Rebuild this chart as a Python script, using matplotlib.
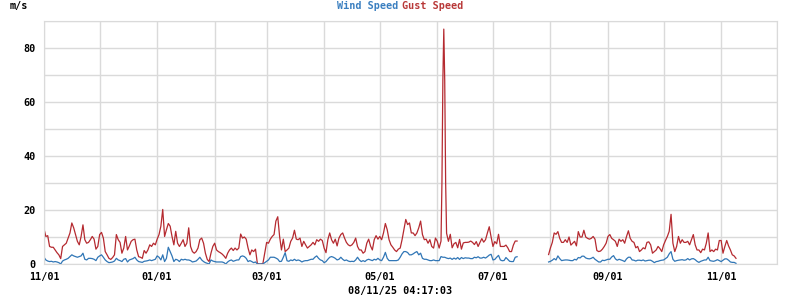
import pandas as pd
import matplotlib
matplotlib.use('Agg')
from matplotlib import pyplot as plt
import matplotlib.dates as mdates
from matplotlib.ticker import MultipleLocator

# daily readings (m/s), 2024-11-01 .. 2025-07-14
gust_1 = [13.0, 10.2, 10.5, 6.5, 6.2, 6.2, 5.2, 4.2, 3.4, 2.0,
          6.5, 7.1, 7.7, 9.6, 11.5, 15.2, 13.4, 10.9, 8.4, 7.1,
          10.2, 14.5, 9.0, 7.7, 8.0, 9.0, 10.2, 9.2, 5.5, 6.5,
          10.9, 11.7, 9.6, 4.6, 3.4, 2.1, 1.7, 2.4, 3.4, 10.9,
          9.0, 8.0, 4.0, 5.9, 10.2, 5.2, 6.7, 8.4, 9.0, 9.2,
          5.2, 2.7, 2.5, 2.1, 5.0,
          4.0, 5.2, 7.1, 6.5, 7.7, 7.1, 9.2, 10.9, 14.0, 20.2,
          10.2, 12.7, 15.0, 14.0, 10.2, 7.1, 12.1, 7.7, 6.5, 7.7,
          9.0, 6.5, 7.7, 13.4, 6.5, 4.6, 4.0, 4.6, 5.9, 9.0,
          9.6, 7.7, 4.0, 1.7, 0.9, 4.0, 6.5, 7.7, 5.2, 4.6,
          4.2, 3.7, 3.0, 2.1, 4.0, 5.2, 5.9, 5.0, 5.9, 5.2,
          5.9, 11.1, 9.6, 10.0,
          9.2, 5.9, 3.4, 5.2, 4.6, 5.5, 0.2, 0.0, 0.0, 0.2,
          4.0, 8.0, 7.7, 9.2, 10.2, 10.9, 15.9, 17.5, 10.2, 5.2,
          9.2, 4.6, 5.2, 5.9, 8.4, 9.6, 12.5, 9.2, 9.0, 9.6,
          6.5, 8.4, 7.1, 5.9, 6.5, 7.1, 8.0, 7.1, 9.0, 8.4,
          9.2, 8.7, 5.9, 4.2, 9.0, 11.5, 9.0, 7.7, 9.2, 6.7,
          9.6, 10.9, 11.5, 9.6,
          8.0, 7.1, 6.7, 7.1, 8.0, 9.6, 6.5, 5.2, 5.2, 4.0,
          4.6, 7.7, 9.2, 6.7, 5.2, 9.0, 10.5, 9.2, 10.2, 9.0,
          11.5, 15.0, 12.7, 9.0, 7.1, 6.2, 5.2, 4.6, 5.5, 5.9,
          9.0, 12.7, 16.5, 14.6, 15.2, 11.5, 11.5, 10.5, 11.5, 13.4,
          15.9, 10.9, 9.0, 9.2, 7.7, 9.0, 6.5, 5.9, 9.6, 8.4,
          5.9, 8.5,
          68.0, 68.0, 11.4, 8.4, 11.0, 6.0, 7.5, 8.0, 6.0, 9.1,
          5.5, 7.8, 8.0, 8.0, 8.1, 8.5, 8.0, 7.2, 8.3, 6.5,
          8.0, 9.4, 8.1, 9.0, 11.5, 13.8, 10.0, 6.5, 8.3, 7.5,
          11.0, 6.5, 6.5, 6.5, 7.0, 6.0, 4.6, 4.6, 7.0, 8.5,
          8.5]
wind_1 = [2.5, 1.5, 1.1, 0.9, 1.0, 0.75, 0.9, 0.75, 0.5, 0.0,
          1.1, 1.5, 1.75, 2.1, 2.75, 3.4, 3.0, 2.75, 2.5, 2.75,
          3.0, 4.0, 1.75, 1.5, 2.1, 2.1, 2.0, 1.75, 1.25, 2.5,
          3.0, 3.4, 2.5, 1.5, 0.9, 0.5, 0.6, 0.75, 1.1, 2.1,
          1.5, 1.25, 0.9, 1.75, 2.0, 0.75, 1.5, 1.75, 2.0, 2.5,
          1.5, 0.9, 0.75, 0.6, 1.0,
          1.1, 1.25, 1.5, 1.25, 1.5, 1.75, 3.0, 2.5, 1.5, 3.4,
          0.9, 2.1, 6.2, 4.6, 3.0, 0.9, 1.75, 1.5, 0.9, 1.75,
          1.5, 1.75, 1.5, 1.5, 1.25, 0.75, 0.9, 1.1, 1.75, 2.5,
          1.5, 0.9, 0.5, 0.25, 0.0, 1.5, 1.1, 0.9, 0.75, 0.75,
          0.75, 0.75, 0.5, 0.0, 0.75, 1.25, 1.5, 1.0, 1.25, 1.5,
          1.5, 2.75, 3.0, 2.75,
          2.1, 0.9, 1.25, 0.9, 0.5, 0.75, 0.0, 0.0, 0.0, 0.0,
          0.5, 1.0, 1.5, 2.5, 2.5, 2.5, 2.2, 1.8, 0.9, 1.0,
          2.5, 4.2, 1.2, 1.0, 1.5, 1.25, 1.75, 1.25, 1.5, 1.25,
          0.75, 1.1, 1.25, 1.25, 1.5, 1.75, 1.75, 2.5, 3.0, 2.1,
          1.5, 1.25, 0.5, 0.9, 1.75, 2.5, 2.75, 2.5, 2.1, 1.5,
          1.75, 2.5, 1.75, 1.25,
          1.5, 1.1, 0.9, 1.0, 0.9, 1.5, 2.5, 1.5, 0.9, 1.25,
          0.9, 1.5, 1.75, 1.5, 1.25, 1.75, 1.5, 2.1, 1.5, 1.25,
          2.5, 4.3, 2.1, 1.25, 1.25, 1.25, 1.25, 1.25, 1.5, 2.5,
          3.75, 4.6, 4.6, 4.25, 3.4, 3.4, 3.75, 4.25, 4.6, 3.4,
          4.0, 2.1, 1.75, 1.75, 1.5, 1.25, 1.25, 1.5, 1.25, 1.25,
          1.25, 2.75,
          2.5, 2.5, 2.2, 2.0, 2.2, 1.7, 2.2, 1.8, 2.4, 1.7,
          2.4, 2.0, 2.3, 2.2, 2.2, 2.0, 2.0, 2.5, 2.3, 2.7,
          2.2, 2.2, 2.5, 2.2, 2.7, 3.3, 3.6, 1.5, 1.7, 2.5,
          3.2, 1.5, 1.2, 1.3, 2.4, 1.7, 1.0, 0.9, 0.9, 2.5,
          2.7]

# daily readings (m/s), 2025-07-31 .. 2025-11-08
gust_2 = [3.5, 6.0, 8.0, 11.5, 11.0, 12.0, 9.5, 8.0, 8.0, 9.0,
          8.0, 10.0, 7.0, 7.7, 8.4, 6.7, 12.0, 10.0, 10.0, 12.5,
          10.0, 9.5, 9.2, 9.5, 10.2, 9.2, 5.0, 4.6, 4.8, 5.5,
          6.5, 7.7, 10.2, 10.9, 9.5, 9.0, 8.4, 6.5, 9.2, 8.4,
          9.0, 7.7, 10.2, 12.3, 9.5, 8.4, 8.0, 6.0, 6.5, 4.6,
          5.2, 6.0, 5.6,
          8.0, 8.2, 7.1, 4.0, 4.6, 5.2, 6.5, 5.7, 4.6, 7.1,
          8.7, 10.2, 12.1, 18.4, 7.7, 4.6, 6.5, 10.2, 7.7, 9.0,
          8.0, 8.0, 8.4, 7.1, 9.0, 10.9, 7.1, 5.2, 5.2, 4.2,
          5.5, 5.2, 7.7, 11.5, 4.6, 5.2, 4.6, 5.5, 5.2, 8.7,
          8.7, 4.0, 6.5, 8.7, 6.7, 5.2, 3.4, 3.0, 2.1]
wind_2 = [0.75, 1.0, 1.4, 2.0, 1.5, 3.0, 2.0, 1.25, 1.4, 1.5,
          1.5, 1.4, 1.25, 1.25, 1.75, 1.5, 2.4, 2.25, 2.9, 2.9,
          2.25, 2.0, 1.9, 2.1, 2.5, 1.75, 1.25, 0.75, 0.75, 1.4,
          1.25, 1.5, 1.75, 1.75, 2.6, 3.1, 1.9, 1.4, 1.75, 1.5,
          1.25, 0.9, 1.9, 2.5, 2.5, 1.5, 1.4, 1.1, 1.4, 1.4,
          1.25, 1.5, 1.1,
          1.25, 1.4, 1.4, 1.0, 0.5, 0.9, 1.0, 1.25, 1.4, 1.5,
          2.0, 2.5, 3.75, 4.6, 1.75, 1.0, 1.25, 1.4, 1.5, 1.6,
          1.4, 1.5, 2.0, 1.5, 1.9, 2.0, 1.6, 1.0, 0.6, 1.0,
          1.25, 1.5, 1.5, 2.5, 1.25, 1.1, 1.0, 1.25, 1.6, 1.25,
          0.9, 1.4, 1.9, 1.9, 1.4, 0.75, 0.6, 0.6, 0.25]

# extra readings around the june spike
spike_times = ['2025-06-03 12:00', '2025-06-04 12:00', '2025-06-05 12:00']
spike_gust = [30, 87, 30]

days_1 = pd.date_range('2024-11-01', periods=len(gust_1), freq='D')
days_2 = pd.date_range('2025-07-31', periods=len(gust_2), freq='D')

g1 = pd.Series(gust_1, index=days_1)
g1 = pd.concat([g1, pd.Series(spike_gust, index=pd.to_datetime(spike_times))]).sort_index()
w1 = pd.Series(wind_1, index=days_1)
g2 = pd.Series(gust_2, index=days_2)
w2 = pd.Series(wind_2, index=days_2)

red = '#b52a30'
blue = '#3076b6'
font = dict(family='DejaVu Sans Mono', weight='bold', size=7.3)

fig = plt.figure(figsize=(8, 3), dpi=100)
ax = fig.add_axes([0.055, 0.12, 0.916, 0.81])

for g, w in [(g1, w1), (g2, w2)]:
    ax.plot(g.index, g.values, color=red, lw=0.9)
    ax.plot(w.index, w.values, color=blue, lw=0.9)

ax.set_xlim(pd.Timestamp('2024-11-01'), pd.Timestamp('2025-12-01'))
ax.set_ylim(0, 90)

ax.xaxis.set_major_locator(mdates.MonthLocator(bymonth=[1, 3, 5, 7, 9, 11]))
ax.xaxis.set_major_formatter(mdates.DateFormatter('%m/%d'))
ax.xaxis.set_minor_locator(mdates.MonthLocator())
ax.yaxis.set_major_locator(MultipleLocator(20))
ax.yaxis.set_minor_locator(MultipleLocator(10))
ax.grid(True, which='both', color='#dadada', lw=1)
ax.set_axisbelow(True)
ax.tick_params(which='both', length=0)
ax.tick_params(axis='x', pad=6)
ax.tick_params(axis='y', pad=6)
for lab in ax.get_xticklabels() + ax.get_yticklabels():
    lab.set_fontproperties(matplotlib.font_manager.FontProperties(**font))
for s in ax.spines.values():
    s.set_color('#dadada')

fig.text(0.4975, 0.98, 'Wind Speed', color='#3a7fc0', ha='right', va='center', **font)
fig.text(0.503, 0.98, 'Gust Speed', color='#b83838', ha='left', va='center', **font)
fig.text(0.0125, 0.98, 'm/s', ha='left', va='center', **font)
fig.text(0.5, 0.03, '08/11/25 04:17:03', ha='center', va='center', **font)

fig.savefig('out.png', dpi=100)
